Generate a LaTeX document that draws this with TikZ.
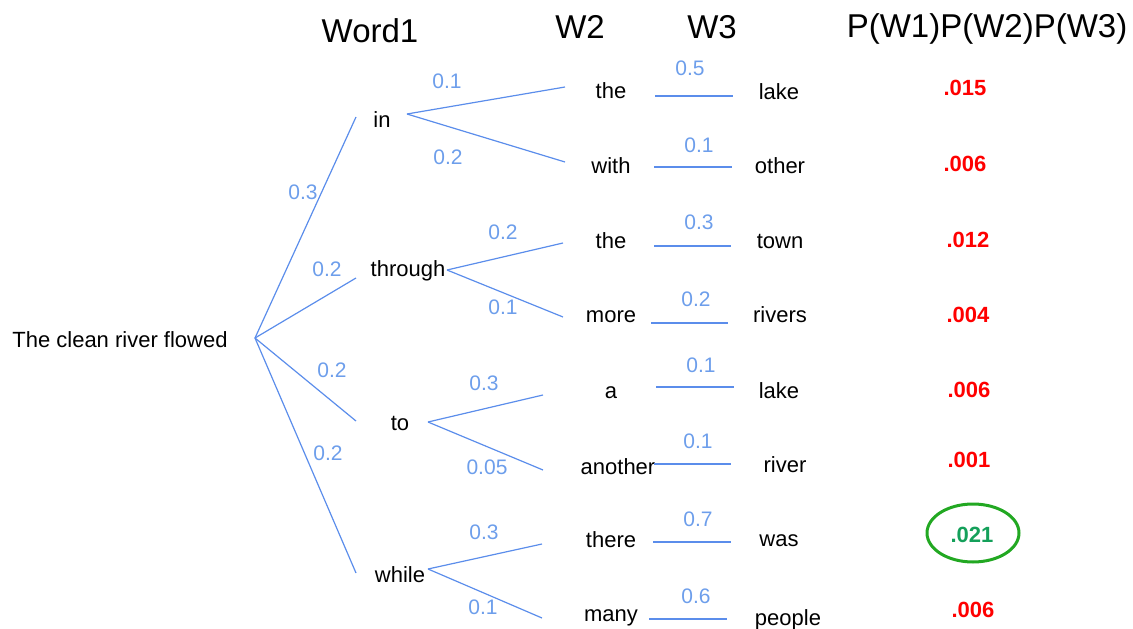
\documentclass[tikz,border=0pt]{standalone}
\usepackage{fontspec}
\setmainfont{Liberation Sans}
\usetikzlibrary{shapes.geometric}
\definecolor{cEdge}{HTML}{5B8DEB}
\definecolor{cProb}{HTML}{6D9EEB}
\definecolor{cJoint}{HTML}{FF0000}
\definecolor{cBest}{HTML}{14A05A}
\definecolor{cRing}{HTML}{22A822}
\tikzset{
  word/.style={font=\fontsize{22}{26}\selectfont, inner sep=0pt, anchor=base},
  head/.style={font=\fontsize{33}{39}\selectfont, inner sep=0pt, anchor=base},
  plabel/.style={font=\fontsize{21}{25}\selectfont, text=cProb, inner sep=0pt},
  jointp/.style={font=\bfseries\fontsize{22}{26}\selectfont, text=cJoint, inner sep=0pt},
  branch/.style={draw=cEdge, line width=1.2pt},
}
\begin{document}
\begin{tikzpicture}[x=1pt, y=-1pt]
\useasboundingbox (0,0) rectangle (1133,629);

% column headers
\node[head] (h1) at (370,42) {Word1};
\node[head] (h2) at (580,38) {W2};
\node[head] (h3) at (712,38) {W3};
\node[head] (h4) at (987,37) {P(W1)P(W2)P(W3)};

% root phrase
\node[word] (root) at (120,347) {The clean river flowed};
\coordinate (r) at (255,338);

% first words
\node[word] (in) at (382,127) {in};
\node[word] (through) at (408,276) {through};
\node[word] (to) at (400,430) {to};
\node[word] (while) at (400,582) {while};

\coordinate (r-in) at (356,117);
\coordinate (r-through) at (356,278);
\coordinate (r-to) at (356,421);
\coordinate (r-while) at (356,573);
\draw[branch] (r) -- (r-in);
\draw[branch] (r) -- (r-through);
\draw[branch] (r) -- (r-to);
\draw[branch] (r) -- (r-while);
\node[plabel] (p-in) at (303,192) {0.3};
\node[plabel] (p-through) at (327,269) {0.2};
\node[plabel] (p-to) at (332,370) {0.2};
\node[plabel] (p-while) at (328,453) {0.2};

% second words
\node[word] (w2a) at (611,98) {the};
\node[word] (w2b) at (611,173) {with};
\node[word] (w2c) at (611,248) {the};
\node[word] (w2d) at (611,322) {more};
\node[word] (w2e) at (611,398) {a};
\node[word] (w2f) at (618,474) {another};
\node[word] (w2g) at (611,547) {there};
\node[word] (w2h) at (611,621) {many};

% fan-out from the first words
\coordinate (in-o) at (407,114);
\coordinate (through-o) at (447,270);
\coordinate (to-o) at (428,422);
\coordinate (while-o) at (428,569);
\coordinate (e2a) at (565,87);
\coordinate (e2b) at (565,162);
\coordinate (e2c) at (563,243);
\coordinate (e2d) at (563,317);
\coordinate (e2e) at (543,395);
\coordinate (e2f) at (543,470);
\coordinate (e2g) at (542,544);
\coordinate (e2h) at (542,618);
\draw[branch] (in-o) -- (e2a);
\draw[branch] (in-o) -- (e2b);
\draw[branch] (through-o) -- (e2c);
\draw[branch] (through-o) -- (e2d);
\draw[branch] (to-o) -- (e2e);
\draw[branch] (to-o) -- (e2f);
\draw[branch] (while-o) -- (e2g);
\draw[branch] (while-o) -- (e2h);
\node[plabel] (q2a) at (447,81) {0.1};
\node[plabel] (q2b) at (448,157) {0.2};
\node[plabel] (q2c) at (503,232) {0.2};
\node[plabel] (q2d) at (503,307) {0.1};
\node[plabel] (q2e) at (484,383) {0.3};
\node[plabel] (q2f) at (487,467) {0.05};
\node[plabel] (q2g) at (484,532) {0.3};
\node[plabel] (q2h) at (483,607) {0.1};

% third words
\node[word] (w3a) at (779,99) {lake};
\node[word] (w3b) at (780,173) {other};
\node[word] (w3c) at (780,248) {town};
\node[word] (w3d) at (780,322) {rivers};
\node[word] (w3e) at (779,398) {lake};
\node[word] (w3f) at (785,472) {river};
\node[word] (w3g) at (779,546) {was};
\node[word] (w3h) at (788,625) {people};

% links between second and third words
\coordinate (s3a) at (655,96);  \coordinate (t3a) at (733,96);
\coordinate (s3b) at (654,167); \coordinate (t3b) at (732,167);
\coordinate (s3c) at (654,246); \coordinate (t3c) at (731,246);
\coordinate (s3d) at (651,323); \coordinate (t3d) at (728,323);
\coordinate (s3e) at (656,387); \coordinate (t3e) at (734,387);
\coordinate (s3f) at (654,464); \coordinate (t3f) at (731,464);
\coordinate (s3g) at (653,542); \coordinate (t3g) at (731,542);
\coordinate (s3h) at (649,619); \coordinate (t3h) at (727,619);
\draw[branch] (s3a) -- (t3a);
\draw[branch] (s3b) -- (t3b);
\draw[branch] (s3c) -- (t3c);
\draw[branch] (s3d) -- (t3d);
\draw[branch] (s3e) -- (t3e);
\draw[branch] (s3f) -- (t3f);
\draw[branch] (s3g) -- (t3g);
\draw[branch] (s3h) -- (t3h);
\node[plabel] (q3a) at (690,68) {0.5};
\node[plabel] (q3b) at (699,145) {0.1};
\node[plabel] (q3c) at (699,222) {0.3};
\node[plabel] (q3d) at (696,299) {0.2};
\node[plabel] (q3e) at (701,365) {0.1};
\node[plabel] (q3f) at (698,441) {0.1};
\node[plabel] (q3g) at (698,519) {0.7};
\node[plabel] (q3h) at (696,596) {0.6};

% joint probabilities
\node[jointp] (j1) at (965,88) {.015};
\node[jointp] (j2) at (965,164) {.006};
\node[jointp] (j3) at (968,240) {.012};
\node[jointp] (j4) at (968,315) {.004};
\node[jointp] (j5) at (969,390) {.006};
\node[jointp] (j6) at (969,460) {.001};
\node[jointp, text=cBest] (j7) at (972,535) {.021};
\node[jointp] (j8) at (973,610) {.006};
\node[draw=cRing, line width=3pt, ellipse, minimum width=92pt, minimum height=58pt, inner sep=0pt] (best) at (973,533) {};
\end{tikzpicture}
\end{document}
